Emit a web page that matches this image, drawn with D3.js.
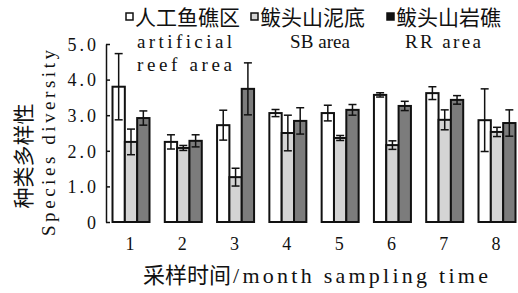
<!DOCTYPE html>
<html>
<head>
<meta charset="utf-8">
<script src="https://cdn.jsdelivr.net/npm/d3@7/dist/d3.min.js"></script>
<style>
  body { margin: 0; background: #fff; }
  svg { display: block; }
  .tick text { font-family: "Liberation Serif", serif; font-size: 18px; fill: #111; }
</style>
</head>
<body>
<div id="chart"></div>
<script>
'use strict';

const months = ['1', '2', '3', '4', '5', '6', '7', '8'];
const seriesNames = ['AR', 'SB', 'RR'];

// species diversity, mean and error
const arValues = [3.8, 2.25, 2.72, 3.06, 3.06, 3.57, 3.62, 2.86];
const arErrors = [0.93, 0.2, 0.42, 0.1, 0.22, 0.06, 0.18, 0.88];
const sbValues = [2.25, 2.08, 1.26, 2.5, 2.36, 2.16, 2.87, 2.53];
const sbErrors = [0.36, 0.07, 0.25, 0.5, 0.07, 0.12, 0.28, 0.13];
const rrValues = [2.92, 2.28, 3.74, 2.84, 3.15, 3.26, 3.43, 2.78];
const rrErrors = [0.2, 0.17, 0.73, 0.37, 0.15, 0.13, 0.12, 0.37];

const yTicks = [0, 1, 2, 3, 4, 5];

const colors = {AR: '#ffffff', SB: '#d4d4d4', RR: '#7c7c7c'};

const latin = '"Liberation Serif", serif';
const cjk = '"Noto Sans CJK SC", sans-serif';

let width = 518, height = 293;

let svg = d3.select('#chart').append('svg')
    .attr('width', width)
    .attr('height', height);

let x = d3.scalePoint().domain(months).range([131, 497]);
let xSub = d3.scaleBand().domain(seriesNames).range([-18.5, 18.5]);
let y = d3.scaleLinear().domain([0, 5]).range([222, 44]);

let rows = [];
months.forEach(function (m, i) {
    rows.push({month: m, s: 'AR', v: arValues[i], e: arErrors[i]});
    rows.push({month: m, s: 'SB', v: sbValues[i], e: sbErrors[i]});
    rows.push({month: m, s: 'RR', v: rrValues[i], e: rrErrors[i]});
});

// bars
svg.append('g').selectAll('rect')
    .data(rows)
    .join('rect')
    .attr('x', function (d) { return x(d.month) + xSub(d.s); })
    .attr('y', function (d) { return y(d.v); })
    .attr('width', xSub.bandwidth())
    .attr('height', function (d) { return y(0) - y(d.v); })
    .attr('fill', function (d) { return colors[d.s]; })
    .attr('stroke', '#111')
    .attr('stroke-width', 2);

// error bars
let err = svg.append('g')
    .attr('stroke', '#111')
    .attr('stroke-width', 1.5)
    .selectAll('g')
    .data(rows)
    .join('g')
    .attr('transform', function (d) {
        return 'translate(' + (x(d.month) + xSub(d.s) + xSub.bandwidth() / 2) + ',0)';
    });

err.append('line')
    .attr('y1', function (d) { return y(d.v + d.e); })
    .attr('y2', function (d) { return y(d.v - d.e); });
err.append('line')
    .attr('x1', -4).attr('x2', 4)
    .attr('y1', function (d) { return y(d.v + d.e); })
    .attr('y2', function (d) { return y(d.v + d.e); });
err.append('line')
    .attr('x1', -4).attr('x2', 4)
    .attr('y1', function (d) { return y(d.v - d.e); })
    .attr('y2', function (d) { return y(d.v - d.e); });

// y axis
let yAxis = svg.append('g')
    .attr('transform', 'translate(106,0)')
    .call(d3.axisLeft(y)
        .tickValues(yTicks)
        .tickSize(-4)
        .tickSizeOuter(0)
        .tickPadding(7)
        .tickFormat(function (d) { return d === 0 ? '0' : d3.format('.1f')(d); }));
yAxis.selectAll('path, line').attr('stroke', '#111').attr('stroke-width', 1.5);
yAxis.selectAll('text').style('letter-spacing', '3px').attr('dy', '0.35em');

// x labels
svg.append('g').selectAll('text')
    .data(months)
    .join('text')
    .attr('x', function (d) { return x(d) - 1; })
    .attr('y', 250)
    .attr('text-anchor', 'middle')
    .style('font-family', latin)
    .style('font-size', '18px')
    .attr('fill', '#111')
    .text(function (d) { return d; });

// x title
svg.append('text')
    .attr('x', 143)
    .attr('y', 283)
    .style('font-family', cjk)
    .style('font-size', '22px')
    .attr('fill', '#111')
    .text('采样时间');
svg.append('text')
    .attr('x', 233)
    .attr('y', 283)
    .attr('textLength', 255)
    .attr('lengthAdjust', 'spacing')
    .style('font-family', latin)
    .style('font-size', '22px')
    .attr('fill', '#111')
    .text('/month sampling time');

// y titles
svg.append('text')
    .attr('transform', 'translate(31,156)rotate(-90)')
    .attr('text-anchor', 'middle')
    .style('font-family', cjk)
    .style('font-size', '21px')
    .attr('fill', '#111')
    .text('种类多样性');

svg.append('text')
    .attr('transform', 'translate(55,143)rotate(-90)')
    .attr('text-anchor', 'middle')
    .attr('textLength', 186)
    .attr('lengthAdjust', 'spacing')
    .style('font-family', latin)
    .style('font-size', '19px')
    .attr('fill', '#111')
    .text('Species diversity');

// legend
let legendItems = [
    {s: 'AR', x: 126, cn: '人工鱼礁区', en: ['artificial', 'reef area'], ex: 137, w: 95},
    {s: 'SB', x: 251, cn: '鲅头山泥底', en: ['SB area'], ex: 290, w: 60},
    {s: 'RR', x: 387, cn: '鲅头山岩礁', en: ['RR area'], ex: 405, w: 76}
];

let legend = svg.append('g').selectAll('g')
    .data(legendItems)
    .join('g');

legend.append('rect')
    .attr('x', function (d) { return d.x; })
    .attr('y', 13)
    .attr('width', 7)
    .attr('height', 7)
    .attr('fill', function (d) { return d.s === 'RR' ? '#111' : colors[d.s]; })
    .attr('stroke', '#111')
    .attr('stroke-width', 1.5);

legend.append('text')
    .attr('x', function (d) { return d.x + 9; })
    .attr('y', 25)
    .style('font-family', cjk)
    .style('font-size', '21px')
    .attr('fill', '#111')
    .text(function (d) { return d.cn; });

legend.each(function (d) {
    let g = d3.select(this);
    d.en.forEach(function (t, i) {
        g.append('text')
            .attr('x', d.ex)
            .attr('y', 48 + i * 23)
            .attr('textLength', d.w)
            .attr('lengthAdjust', 'spacing')
            .style('font-family', latin)
            .style('font-size', '19px')
            .attr('fill', '#111')
            .text(t);
    });
});
</script>
</body>
</html>
